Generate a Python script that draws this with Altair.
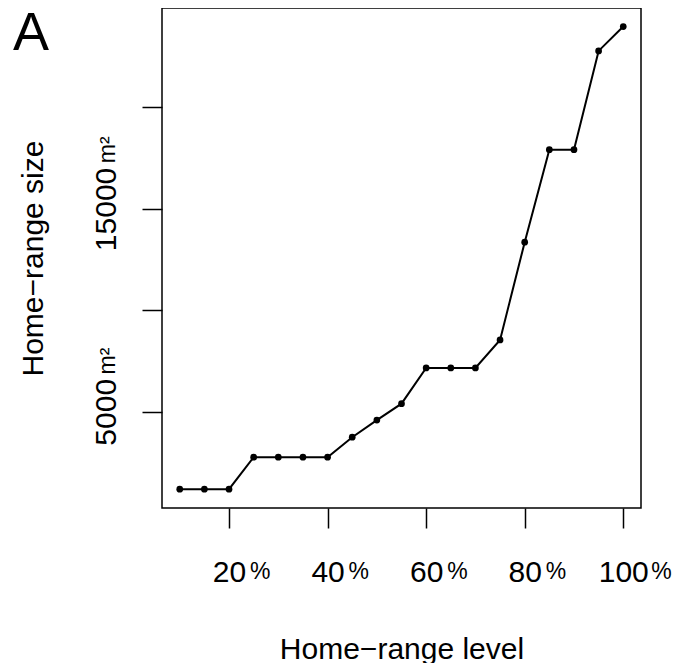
import altair as alt
import pandas as pd

# ---- data ----
levels = [10, 15, 20, 25, 30, 35, 40, 45, 50, 55, 60, 65, 70, 75, 80, 85, 90, 95, 100]
sizes = [1185, 1185, 1185, 2760, 2760, 2760, 2760, 3745, 4590, 5400,
         7160, 7160, 7160, 8540, 13360, 17920, 17920, 22790, 23990]
x_ticks = [20, 40, 60, 80, 100]
y_ticks = [5000, 10000, 15000, 20000]
y_labeled = [5000, 15000]
x_title = "Home\u2212range level"
y_title = "Home\u2212range size"
panel = "A"
pct_sign = "%"
area_unit = "m\u00b2"

W, H = 479, 500
FONT = "Liberation Sans"

df = pd.DataFrame({"level": levels, "size": sizes})

xs = alt.Scale(domain=[6.4, 103.6], nice=False, zero=False)
ys = alt.Scale(domain=[256, 24905], nice=False, zero=False)

x_axis = alt.Axis(
    values=x_ticks, format="d", title=x_title, grid=False, domain=False,
    tickSize=20, tickWidth=1.5, tickColor="black",
    labelFontSize=30, labelFont=FONT, labelColor="black",
    labelBaseline="alphabetic", labelAlign="center", labelPadding=53,
    labelFlush=False, labelOverlap=False,
    titleFontSize=30, titleFont=FONT, titleFontWeight="normal", titleColor="black",
    titleBaseline="alphabetic", titleY=150,
)
lab_list = ",".join(str(v) for v in y_labeled)
y_axis = alt.Axis(
    values=y_ticks, format="d", title=y_title, grid=False, domain=False,
    labelExpr=f"indexof([{lab_list}], datum.value) >= 0 ? datum.label : ''",
    tickSize=20, tickWidth=1.5, tickColor="black",
    labelFontSize=30, labelFont=FONT, labelColor="black",
    labelAngle=270, labelAlign="center", labelBaseline="alphabetic", labelPadding=27,
    labelFlush=False, labelOverlap=False,
    titleFontSize=30, titleFont=FONT, titleFontWeight="normal", titleColor="black",
    titleBaseline="alphabetic", titleX=-120,
)

X = alt.X("level:Q", scale=xs, axis=x_axis)
Y = alt.Y("size:Q", scale=ys, axis=y_axis)

base = alt.Chart(df)
line = base.mark_line(color="black", strokeWidth=2).encode(x=X, y=Y)
pts = base.mark_circle(color="black", size=45, opacity=1).encode(x=X, y=Y)

# percent signs after the x tick numbers
two_digit = [v for v in x_ticks if v < 100]
three_digit = [v for v in x_ticks if v >= 100]
pct2 = alt.Chart(pd.DataFrame({"level": two_digit, "t": [pct_sign] * len(two_digit)})).mark_text(
    align="left", baseline="alphabetic", dx=21, fontSize=23, font=FONT, color="black"
).encode(x=X, y=alt.value(H + 71), text="t:N")
pct3 = alt.Chart(pd.DataFrame({"level": three_digit, "t": [pct_sign] * len(three_digit)})).mark_text(
    align="left", baseline="alphabetic", dx=28, fontSize=23, font=FONT, color="black"
).encode(x=X, y=alt.value(H + 71), text="t:N")

# m² after the y tick numbers
unit_layers = []
for v in y_labeled:
    half = len(str(v)) * 0.556 * 30 / 2
    unit_layers.append(
        alt.Chart(pd.DataFrame({"size": [v], "t": [area_unit]})).mark_text(
            angle=270, align="left", baseline="alphabetic", dx=half + 4,
            fontSize=23, font=FONT, color="black"
        ).encode(y=Y, x=alt.value(-47), text="t:N")
    )

letter = alt.Chart(pd.DataFrame({"t": [panel]})).mark_text(
    align="left", baseline="alphabetic", fontSize=54, font=FONT, color="black"
).encode(x=alt.value(-149), y=alt.value(42), text="t:N")

chart = alt.layer(line, pts, pct2, pct3, *unit_layers, letter).properties(
    width=W, height=H,
    autosize=alt.AutoSizeParams(type="none"),
    padding={"left": 154, "top": 0, "right": 32, "bottom": 155},
    background="white",
).configure_view(stroke="black", strokeWidth=1.5)

chart.save("out.html", embed_options={"renderer": "svg", "actions": False})
